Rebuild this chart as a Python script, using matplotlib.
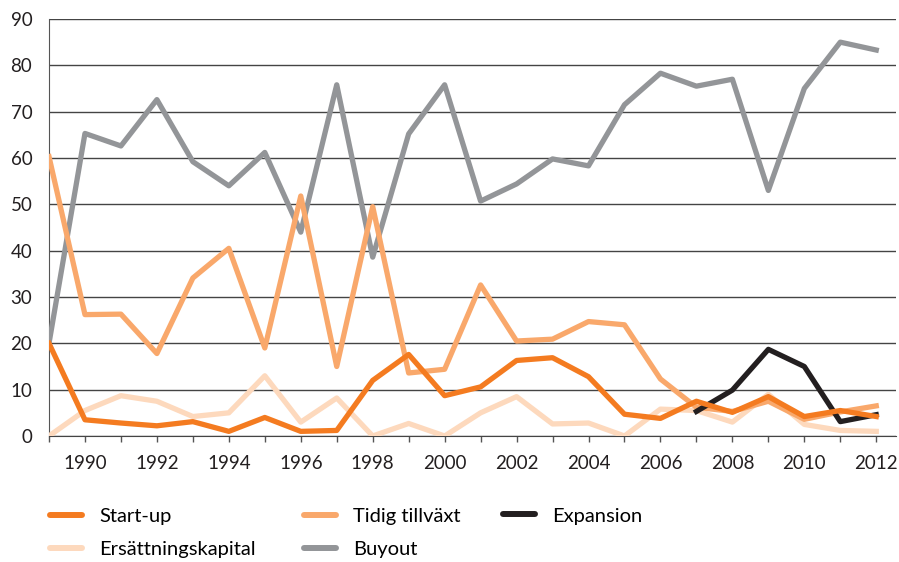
import numpy as np
import matplotlib
matplotlib.use("Agg")
import matplotlib.pyplot as plt
from matplotlib.lines import Line2D

# Data
years = list(range(1989, 2013))
startup = [20, 3.5, 2.8, 2.2, 3.1, 1, 4, 1, 1.2, 12, 17.6, 8.7, 10.6, 16.3, 16.9,
           12.8, 4.7, 3.8, 7.5, 5.1, 8.5, 4.2, 5.5, 4.2]
tidig = [60.3, 26.2, 26.3, 17.8, 34.1, 40.5, 19, 51.8, 15, 49.5, 13.6, 14.4, 32.6,
         20.5, 20.9, 24.7, 24, 12.3, 6.2, 5.3, 7.5, 3.6, 5.2, 6.5]
exp_years = list(range(2007, 2013))
expansion = [5.3, 9.9, 18.7, 15, 3.1, 4.6]
ersatt = [0, 5.5, 8.7, 7.5, 4.2, 5, 13, 3, 8.2, 0, 2.7, 0, 5, 8.5, 2.6, 2.8, 0,
          5.8, 5.5, 3, 9, 2.5, 1.2, 1]
buyout = [20, 65.3, 62.6, 72.6, 59.2, 54, 61.2, 44, 75.8, 38.6, 65.2, 75.8, 50.7,
          54.4, 59.8, 58.3, 71.5, 78.3, 75.5, 77, 53, 75, 85, 83.3]

c_start = "#f47b20"
c_tidig = "#f9a86b"
c_exp = "#231f20"
c_ers = "#fdd9bd"
c_buy = "#939598"

plt.rcParams["font.family"] = ["Lato", "DejaVu Sans"]

fig = plt.figure(figsize=(8.99, 5.62), dpi=100)
ax = fig.add_axes([0.0545, 0.2242, 0.9422, 0.742])

lw = 3.8
ax.plot(years, buyout, color=c_buy, lw=lw, zorder=3)
ax.plot(years, ersatt, color=c_ers, lw=lw, zorder=3)
ax.plot(years, tidig, color=c_tidig, lw=lw, zorder=4)
ax.plot(exp_years, expansion, color=c_exp, lw=lw, zorder=5)
ax.plot(years, startup, color=c_start, lw=lw, zorder=6)

ax.set_xlim(1989, 2012.55)
ax.set_ylim(0, 90)
ax.set_yticks(range(0, 91, 10))
ax.set_xticks(years, minor=True)
ax.set_xticks(range(1990, 2013, 2))
ax.tick_params(axis="y", length=0, labelsize=13.5, colors="#231f20", pad=12)
ax.tick_params(axis="x", which="both", length=4, width=1, color="#555555",
               labelsize=13.5, labelcolor="#231f20", pad=10)
ax.grid(axis="y", color="#444444", lw=1, zorder=1)
for s in ["top", "right"]:
    ax.spines[s].set_visible(False)
ax.spines["left"].set_color("#555555")
ax.spines["bottom"].set_color("#444444")


def handle(c):
    return Line2D([], [], color=c, lw=4.3, solid_capstyle="round")


# legend laid out in three columns, like the reference
cols = [
    ([handle(c_start), handle(c_ers)], ["Start-up", "Ersättningskapital"], 0.0556, 0.0516),
    ([handle(c_tidig), handle(c_buy)], ["Tidig tillväxt", "Buyout"], 0.338, 0.0516),
    ([handle(c_exp)], ["Expansion"], 0.5595, 0.0819),
]
for hs, labs, x, y in cols:
    fig.legend(hs, labs, loc="center left", bbox_to_anchor=(x, y), frameon=False,
               fontsize=14.5, handlelength=1.6, handletextpad=0.85,
               labelspacing=0.82, borderpad=0, borderaxespad=0)

fig.savefig("out.png", dpi=100)
